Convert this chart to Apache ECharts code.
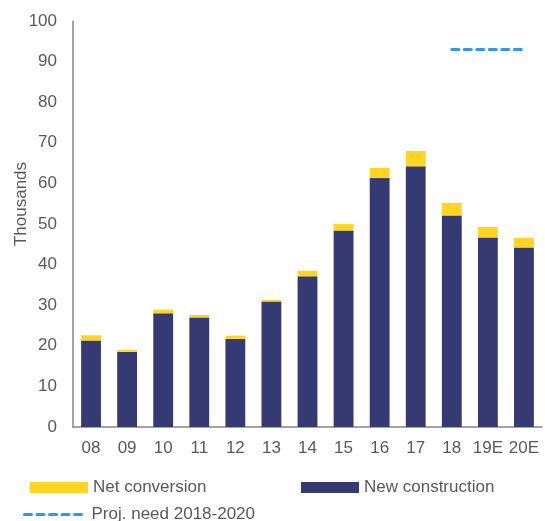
<!DOCTYPE html>
<html>
<head>
<meta charset="utf-8">
<script src="https://cdn.jsdelivr.net/npm/echarts@6/dist/echarts.min.js"></script>
<style>
  html, body { margin: 0; padding: 0; background: #fff; }
  #chart { width: 545px; height: 521px; }
</style>
</head>
<body>
<div id="chart"></div>
<script>
// years on the x axis
const years = ["08", "09", "10", "11", "12", "13", "14", "15", "16", "17", "18", "19E", "20E"];
// thousands of units
const newConstruction = [21.3, 18.5, 28.0, 27.0, 21.7, 30.9, 37.1, 48.4, 61.3, 64.2, 52.1, 46.7, 44.2];
const netConversion = [1.3, 0.5, 0.9, 0.6, 0.8, 0.4, 1.4, 1.6, 2.5, 3.8, 3.1, 2.6, 2.4];
const projNeed = [null, null, null, null, null, null, null, null, null, null, 93, 93, 93];

const grey = "#595959";
const font = "Liberation Sans, Arial, sans-serif";

var myChart = echarts.init(document.getElementById("chart"));

var option = {
  animation: false,
  grid: {
    left: 73,
    right: 3,
    top: 21,
    bottom: 94,
  },
  legend: [
    {
      data: ["Net conversion"],
      icon: "rect",
      left: 25,
      top: 474,
      itemWidth: 58,
      itemHeight: 11,
      itemGap: 6,
      textStyle: { color: grey, fontSize: 17, fontFamily: font },
    },
    {
      data: ["New construction"],
      icon: "rect",
      left: 296,
      top: 474,
      itemWidth: 58,
      itemHeight: 11,
      textStyle: { color: grey, fontSize: 17, fontFamily: font },
    },
    {
      data: ["Proj. need 2018-2020"],
      left: 18,
      top: 501,
      itemWidth: 62,
      itemHeight: 11,
      itemStyle: { opacity: 0 },
      lineStyle: { width: 3, type: [7, 5.5], cap: "round", color: "#2e96f7" },
      textStyle: { color: grey, fontSize: 17, fontFamily: font },
    },
  ],
  graphic: [
    {
      type: "text",
      x: 13,
      y: 204,
      rotation: Math.PI / 2,
      style: {
        text: "Thousands",
        fill: grey,
        fontSize: 17,
        fontFamily: font,
        align: "center",
        verticalAlign: "top",
      },
    },
  ],
  xAxis: {
    type: "category",
    data: years,
    axisLine: { lineStyle: { color: "#878787", width: 1.5 } },
    axisTick: { show: false },
    axisLabel: { color: grey, fontSize: 17, fontFamily: font, margin: 13, interval: 0 },
  },
  yAxis: {
    type: "value",
    min: 0,
    max: 100,
    interval: 10,
    axisLine: { show: true, lineStyle: { color: "#878787", width: 1.5 } },
    axisTick: { show: false },
    splitLine: { show: false },
    axisLabel: { color: grey, fontSize: 17, fontFamily: font, margin: 16 },
  },
  series: [
    {
      name: "New construction",
      type: "bar",
      stack: "total",
      barWidth: "55%",
      itemStyle: { color: "#353b72" },
      data: newConstruction,
    },
    {
      name: "Net conversion",
      type: "bar",
      stack: "total",
      barWidth: "55%",
      itemStyle: { color: "#ffd422" },
      data: netConversion,
    },
    {
      name: "Proj. need 2018-2020",
      type: "line",
      symbol: "none",
      itemStyle: { color: "#2e96f7" },
      lineStyle: { color: "#2e96f7", width: 3, type: [7, 5.5], cap: "round" },
      data: projNeed,
    },
  ],
};

option && myChart.setOption(option);
</script>
</body>
</html>
